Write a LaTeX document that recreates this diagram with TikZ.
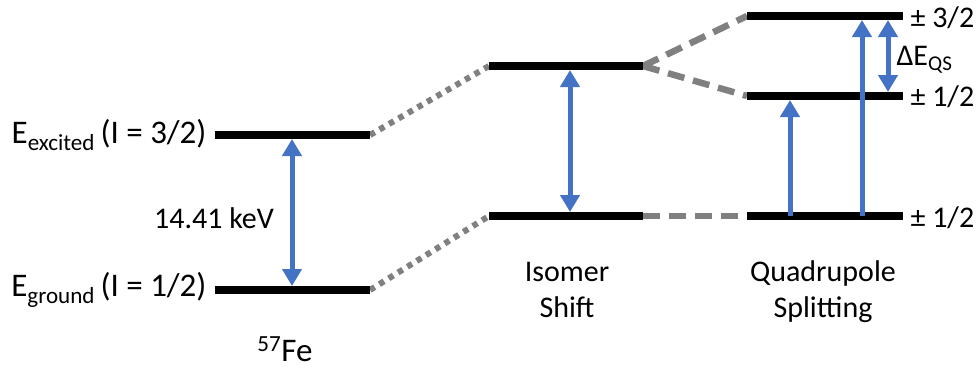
\documentclass[tikz,border=0pt]{standalone}
\usepackage{fontspec}
\setmainfont{Carlito}
\usetikzlibrary{arrows.meta}
\definecolor{lvlblue}{RGB}{68,114,196}
\definecolor{lvlgray}{RGB}{128,128,128}
\begin{document}
\begin{tikzpicture}[x=1pt,y=-1pt,
  level/.style={line width=8pt,black},
  dotlink/.style={line width=6pt,lvlgray,dash pattern=on 5.5pt off 5.5pt},
  dashlink/.style={line width=6.5pt,lvlgray,dash pattern=on 17pt off 9pt},
  trans/.style={line width=5pt,lvlblue,-{Triangle[width=19pt,length=17pt]}},
  transboth/.style={line width=5pt,lvlblue,{Triangle[width=19pt,length=17pt]}-{Triangle[width=19pt,length=17pt]}},
  big/.style={font=\fontsize{33}{38}\selectfont},
  mid/.style={font=\fontsize{30}{36}\selectfont},
  lbl/.style={font=\fontsize{30}{36}\selectfont,align=center}]
\useasboundingbox (0,0) rectangle (979,372);

% level end points
\coordinate (feEl) at (215,135); \coordinate (feEr) at (370,135);
\coordinate (feGl) at (215,290); \coordinate (feGr) at (370,290);
\coordinate (isUl) at (489,66);  \coordinate (isUr) at (643,66);
\coordinate (isLl) at (489,216); \coordinate (isLr) at (643,216);
\coordinate (qsTl) at (747,16);  \coordinate (qsTr) at (903,16);
\coordinate (qsMl) at (747,96);  \coordinate (qsMr) at (903,96);
\coordinate (qsBl) at (747,216); \coordinate (qsBr) at (903,216);

% links between levels
\draw[dotlink] (feEr) -- (isUl);
\draw[dotlink] (feGr) -- (isLl);
\draw[dashlink] (isUr) -- (qsTl);
\draw[dashlink] (isUr) -- (qsMl);
\draw[dashlink] (isLr) -- (qsBl);

% energy levels
\foreach \a/\b in {feEl/feEr,feGl/feGr,isUl/isUr,isLl/isLr,qsTl/qsTr,qsMl/qsMr,qsBl/qsBr}
  \draw[level] (\a) -- (\b);

% transitions
\coordinate (feA) at (292,139); \coordinate (feB) at (292,286);
\draw[transboth] (feA) -- (feB);
\coordinate (isA) at (570,70); \coordinate (isB) at (570,212);
\draw[transboth] (isA) -- (isB);
\coordinate (q1a) at (790,216); \coordinate (q1b) at (790,100);
\draw[trans] (q1a) -- (q1b);
\coordinate (q2a) at (862,216); \coordinate (q2b) at (862,20);
\draw[trans] (q2a) -- (q2b);
\coordinate (q3a) at (888,20); \coordinate (q3b) at (888,92);
\draw[transboth] (q3a) -- (q3b);

% labels
\node[big,anchor=east] (lE) at (210,135) {E\textsubscript{excited}\,(I = 3/2)};
\node[big,anchor=east] (lG) at (210,290) {E\textsubscript{ground}\,(I = 1/2)};
\node[mid] (lkev) at (214,218) {14.41 keV};
\node[big,anchor=base,inner sep=0pt] (lfe) at (285,361) {\textsuperscript{57}Fe};
\node[lbl] (lis) at (567,290) {Isomer\\Shift};
\node[lbl] (lqs) at (823,292) {Quadrupole\\Splitting};
\node[mid,anchor=west] (m3) at (907,18) {± 3/2};
\node[mid,anchor=west] (m1) at (907,97) {± 1/2};
\node[mid,anchor=west] (m0) at (907,218) {± 1/2};
\node[mid,anchor=west] (dq) at (893,60) {ΔE\textsubscript{QS}};
\end{tikzpicture}
\end{document}
